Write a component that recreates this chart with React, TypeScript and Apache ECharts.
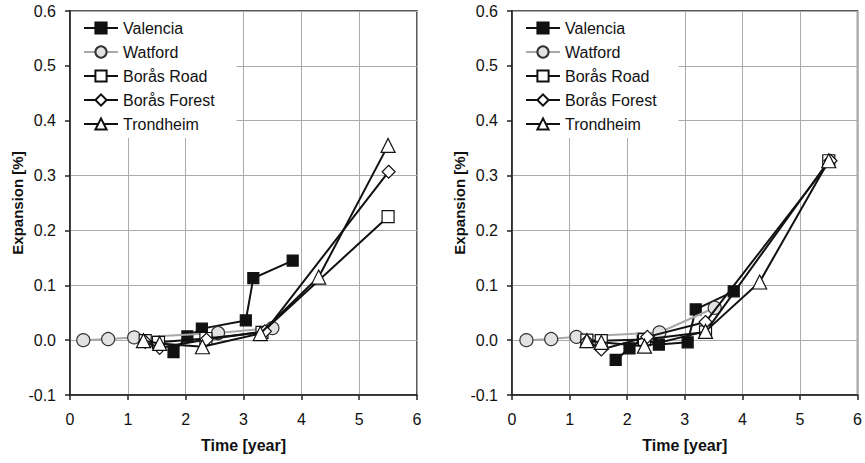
import React, { useEffect, useRef } from "react";
import * as echarts from "echarts";

const SERIES_NAMES = ["Valencia", "Watford", "Borås Road", "Borås Forest", "Trondheim"];
const X_LABEL = "Time [year]";
const Y_LABEL = "Expansion [%]";

// Left panel
const valenciaL = [[1.79, -0.022], [2.03, 0.007], [2.28, 0.021], [3.04, 0.036], [3.17, 0.113], [3.85, 0.145]];
const watfordL = [[0.23, 0.0], [0.66, 0.002], [1.11, 0.005], [2.56, 0.013], [3.5, 0.022]];
const roadL = [[1.3, -0.001], [1.53, -0.004], [2.35, 0.003], [3.32, 0.014], [5.5, 0.225]];
const forestL = [[1.3, -0.003], [1.55, -0.014], [2.36, 0.001], [3.37, 0.016], [5.51, 0.307]];
const trondheimL = [[1.27, -0.001], [1.55, -0.006], [2.29, -0.012], [3.29, 0.012], [4.3, 0.115], [5.5, 0.355]];

// Right panel
const valenciaR = [[1.8, -0.036], [2.04, -0.015], [2.27, 0.003], [2.55, -0.008], [3.05, -0.004], [3.19, 0.056], [3.85, 0.089]];
const watfordR = [[0.25, 0.0], [0.68, 0.002], [1.12, 0.006], [2.56, 0.014], [3.52, 0.059]];
const roadR = [[1.3, 0.0], [1.55, -0.001], [2.3, 0.001], [3.36, 0.015], [5.5, 0.327]];
const forestR = [[1.3, -0.002], [1.55, -0.017], [2.35, 0.006], [3.36, 0.033], [5.53, 0.327]];
const trondheimR = [[1.3, -0.001], [1.55, -0.004], [2.3, -0.011], [3.36, 0.016], [4.3, 0.106], [5.5, 0.327]];

const FONT = "'Liberation Sans', Arial, Helvetica, sans-serif";

const styles: any[] = [
  { symbol: "rect", size: 11, line: "#111", fill: "#111", border: "#111" },
  { symbol: "circle", size: 13, line: "#a8a8a8", fill: "#e2e2e2", border: "#333" },
  { symbol: "rect", size: 12, line: "#111", fill: "#fff", border: "#111" },
  { symbol: "diamond", size: 13, line: "#111", fill: "#fff", border: "#111" },
  { symbol: "triangle", size: 14, line: "#111", fill: "#fff", border: "#111" },
];

function makeSeries(data: number[][], idx: number, axisIdx: number) {
  const s = styles[idx];
  return {
    type: "line",
    name: SERIES_NAMES[idx],
    xAxisIndex: axisIdx,
    yAxisIndex: axisIdx,
    data,
    symbol: s.symbol,
    symbolSize: s.size,
    showAllSymbol: true,
    lineStyle: { color: s.line, width: 2 },
    itemStyle: { color: s.fill, borderColor: s.border, borderWidth: 1.2 },
    emphasis: { disabled: true },
    z: 2 + idx,
  };
}

function xAxis(gridIndex: number) {
  return {
    type: "value",
    gridIndex,
    min: 0,
    max: 6,
    interval: 1,
    name: X_LABEL,
    nameLocation: "middle",
    nameGap: 42,
    nameTextStyle: { fontFamily: FONT, fontSize: 16, fontWeight: "bold", color: "#111" },
    axisLine: { show: true, onZero: false, lineStyle: { color: "#222", width: 1.5 } },
    axisTick: { show: true, length: 5, lineStyle: { color: "#222", width: 1.5 } },
    axisLabel: { fontFamily: FONT, fontSize: 16, color: "#111", margin: 16 },
    splitLine: { show: true, lineStyle: { color: "#aaa", width: 1 } },
  };
}

function yAxis(gridIndex: number) {
  return {
    type: "value",
    gridIndex,
    min: -0.1,
    max: 0.6,
    interval: 0.1,
    name: Y_LABEL,
    nameLocation: "middle",
    nameGap: 44,
    nameTextStyle: { fontFamily: FONT, fontSize: 15, fontWeight: "bold", color: "#111" },
    axisLine: { show: true, onZero: false, lineStyle: { color: "#222", width: 1.5 } },
    axisTick: { show: true, length: 5, lineStyle: { color: "#222", width: 1.5 } },
    axisLabel: {
      fontFamily: FONT,
      fontSize: 16,
      color: "#111",
      margin: 14,
      formatter: (v: number) => v.toFixed(1),
    },
    splitLine: { show: true, lineStyle: { color: "#aaa", width: 1 } },
  };
}

function legend(left: number) {
  return {
    show: true,
    orient: "vertical",
    left,
    top: 12,
    data: SERIES_NAMES,
    itemWidth: 34,
    itemHeight: 14,
    itemGap: 8,
    padding: [8, 22, 6, 12],
    backgroundColor: "#fff",
    textStyle: { fontFamily: FONT, fontSize: 16, color: "#111" },
    selectedMode: false,
  };
}

export default function App() {
  const ref = useRef<HTMLDivElement>(null);
  useEffect(() => {
    if (!ref.current) return;
    const chart = echarts.init(ref.current, undefined, { renderer: "svg" });
    const left = [valenciaL, watfordL, roadL, forestL, trondheimL];
    const right = [valenciaR, watfordR, roadR, forestR, trondheimR];
    chart.setOption({
      animation: false,
      backgroundColor: "#fff",
      grid: [
        { left: 70, right: 448, top: 11, bottom: 68, show: true, borderColor: "#222", borderWidth: 1.5, backgroundColor: "transparent" },
        { left: 512, right: 6, top: 11, bottom: 68, show: true, borderColor: "#222", borderWidth: 1.5, backgroundColor: "transparent" },
      ],
      legend: [legend(71), legend(513)],
      xAxis: [xAxis(0), xAxis(1)],
      yAxis: [yAxis(0), yAxis(1)],
      series: [
        ...left.map((d, i) => makeSeries(d, i, 0)),
        ...right.map((d, i) => makeSeries(d, i, 1)),
      ],
    });
    return () => chart.dispose();
  }, []);
  return (
    <div
      ref={ref}
      style={{ position: "fixed", left: 0, top: 0, width: 865, height: 463, background: "#fff" }}
    />
  );
}
